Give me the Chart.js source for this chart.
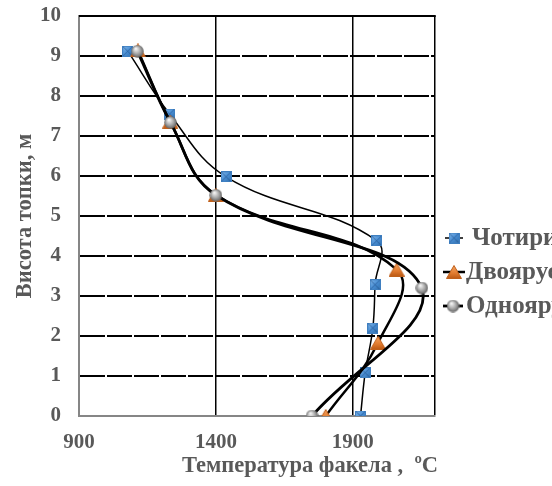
<!DOCTYPE html>
<html>
<head>
<meta charset="utf-8">
<script src="https://cdn.jsdelivr.net/npm/chart.js@4.4.1/dist/chart.umd.min.js"></script>
<style>
  html, body { margin: 0; padding: 0; background: #ffffff; }
  #c { display: block; }
</style>
</head>
<body>
<canvas id="c" width="552" height="486"></canvas>
<script>
// Series names (legend)
const seriesNames = ['Чотириярусне', 'Двоярусне', 'Одноярусне'];

// Flame temperature, °C, and furnace height, m — four-tier burners
const tempFour   = [1078, 1231, 1437, 1987, 1981, 1973, 1945, 1928];
const heightFour = [9.12, 7.55, 5.98, 4.38, 3.28, 2.20, 1.08, 0];

// Two-tier burners
const tempTwo   = [1115, 1233, 1400, 2060, 1992, 1801];
const heightTwo = [9.14, 7.36, 5.53, 3.66, 1.83, 0];

// Single-tier burners
const tempOne   = [1113, 1234, 1400, 2152, 1751];
const heightOne = [9.12, 7.34, 5.52, 3.20, 0];

// Axis ticks and ranges
const xTickValues = [900, 1400, 1900];
const xMin = 900, xMax = 2200;
const yTickValues = [0, 1, 2, 3, 4, 5, 6, 7, 8, 9, 10];

const xTitle = 'Температура факела ,  ºC';
const yTitle = 'Висота топки, м';

const FONT_FAMILY = '"Liberation Serif", "Times New Roman", serif';
const TEXT_COLOR = '#595959';

function toPoints(xs, ys) {
  return xs.map((x, i) => ({ x: x, y: ys[i] }));
}

// ---- shaded marker images ----
function makeSquare(s) {
  const c = document.createElement('canvas');
  c.width = s; c.height = s;
  const g = c.getContext('2d');
  const grd = g.createLinearGradient(0, 0, s, s);
  grd.addColorStop(0, '#86b9ea');
  grd.addColorStop(0.5, '#4a8fd4');
  grd.addColorStop(1, '#2d6aa8');
  g.fillStyle = grd;
  g.fillRect(0, 0, s, s);
  g.strokeStyle = 'rgba(25,70,125,0.55)';
  g.lineWidth = 1;
  g.beginPath();
  g.moveTo(1, 1); g.lineTo(s - 1, s - 1);
  g.moveTo(s - 1, 1); g.lineTo(1, s - 1);
  g.stroke();
  g.strokeStyle = '#3f7fc0';
  g.strokeRect(0.5, 0.5, s - 1, s - 1);
  return c;
}

function makeTriangle(w, h) {
  const c = document.createElement('canvas');
  c.width = w; c.height = h;
  const g = c.getContext('2d');
  const grd = g.createLinearGradient(0, 0, 0, h);
  grd.addColorStop(0, '#f7a866');
  grd.addColorStop(0.6, '#e07a2e');
  grd.addColorStop(1, '#b85612');
  g.fillStyle = grd;
  g.beginPath();
  g.moveTo(w / 2, 0.5);
  g.lineTo(w - 0.5, h - 0.5);
  g.lineTo(0.5, h - 0.5);
  g.closePath();
  g.fill();
  g.strokeStyle = '#c0601a';
  g.lineWidth = 1;
  g.stroke();
  return c;
}

function makeSphere(s) {
  const c = document.createElement('canvas');
  c.width = s; c.height = s;
  const g = c.getContext('2d');
  const r = s / 2;
  const grd = g.createRadialGradient(r * 0.75, r * 0.6, r * 0.1, r, r, r);
  grd.addColorStop(0, '#f2f2f2');
  grd.addColorStop(0.55, '#a6a6a6');
  grd.addColorStop(1, '#5e5e5e');
  g.fillStyle = grd;
  g.beginPath();
  g.arc(r, r, r - 0.3, 0, Math.PI * 2);
  g.fill();
  return c;
}

const squareImg = makeSquare(11);
const triangleImg = makeTriangle(16, 14);
const sphereImg = makeSphere(13);

const lineWidths = [1.5, 2.5, 2.8];
const markerImgs = [squareImg, triangleImg, sphereImg];

// ---- legend, drawn at the right side of the plot ----
const legendRows = [
  { y: 238, lineFrom: 445, lineTo: 463, marker: 454, text: 472 },
  { y: 272, lineFrom: 443, lineTo: 465, marker: 454, text: 466 },
  { y: 306, lineFrom: 443, lineTo: 463, marker: 453, text: 466 }
];

const decorPlugin = {
  id: 'decor',
  beforeDatasetsDraw(chart) {
    const { ctx, chartArea } = chart;
    // solid top edge of the plot frame
    ctx.save();
    ctx.strokeStyle = '#000000';
    ctx.lineWidth = 2;
    ctx.beginPath();
    ctx.moveTo(chartArea.left, chartArea.top);
    ctx.lineTo(chartArea.right + 0.75, chartArea.top);
    ctx.stroke();
    ctx.restore();
  },
  afterDraw(chart) {
    const { ctx, chartArea } = chart;
    ctx.save();
    ctx.fillStyle = TEXT_COLOR;
    ctx.font = 'bold 22.5px ' + FONT_FAMILY;

    // axis titles
    ctx.textAlign = 'center';
    ctx.textBaseline = 'middle';
    ctx.fillText(xTitle, 310, 466);

    ctx.save();
    ctx.translate(25, (chartArea.top + chartArea.bottom) / 2);
    ctx.rotate(-Math.PI / 2);
    ctx.fillText(yTitle, 0, 0);
    ctx.restore();

    // legend entries
    ctx.font = 'bold 25px ' + FONT_FAMILY;
    legendRows.forEach((row, i) => {
      ctx.strokeStyle = '#000000';
      ctx.lineWidth = lineWidths[i];
      ctx.beginPath();
      ctx.moveTo(row.lineFrom, row.y);
      ctx.lineTo(row.lineTo, row.y);
      ctx.stroke();
      const img = markerImgs[i];
      ctx.drawImage(img, row.marker - img.width / 2, row.y - img.height / 2);
      ctx.textAlign = 'left';
      ctx.textBaseline = 'middle';
      ctx.fillStyle = TEXT_COLOR;
      ctx.fillText(seriesNames[i], row.text, row.y + 1);
    });
    ctx.restore();
  }
};

const tickFont = { family: FONT_FAMILY, size: 21, weight: 'bold' };

new Chart(document.getElementById('c'), {
  type: 'scatter',
  data: {
    datasets: [
      {
        label: seriesNames[0],
        data: toPoints(tempFour, heightFour),
        showLine: true,
        borderColor: '#000000',
        borderWidth: lineWidths[0],
        tension: 0.4,
        pointStyle: squareImg,
        pointRadius: 6,
        order: 3
      },
      {
        label: seriesNames[1],
        data: toPoints(tempTwo, heightTwo),
        showLine: true,
        borderColor: '#000000',
        borderWidth: lineWidths[1],
        tension: 0.4,
        pointStyle: triangleImg,
        pointRadius: 7,
        order: 2
      },
      {
        label: seriesNames[2],
        data: toPoints(tempOne, heightOne),
        showLine: true,
        borderColor: '#000000',
        borderWidth: lineWidths[2],
        tension: 0.4,
        pointStyle: sphereImg,
        pointRadius: 7,
        order: 1
      }
    ]
  },
  options: {
    responsive: false,
    animation: false,
    devicePixelRatio: 1,
    layout: { padding: { top: 16, right: 117, left: 0, bottom: 0 } },
    plugins: {
      legend: { display: false },
      tooltip: { enabled: false }
    },
    scales: {
      x: {
        type: 'linear',
        min: xMin,
        max: xMax,
        afterBuildTicks(scale) {
          scale.ticks = xTickValues.concat([xMax]).map(v => ({ value: v }));
        },
        afterFit(scale) {
          scale.height = 70;
          scale.paddingLeft = 0;
          scale.paddingRight = 0;
        },
        ticks: {
          font: tickFont,
          color: TEXT_COLOR,
          padding: 14,
          maxRotation: 0,
          autoSkip: false,
          callback: v => (xTickValues.includes(v) ? String(v) : '')
        },
        grid: {
          drawTicks: false,
          lineWidth: 1.5,
          color: ctx => (ctx.tick && ctx.tick.value === xMin ? 'rgba(0,0,0,0)' : '#000000')
        },
        border: { display: true, color: '#868686', width: 2 }
      },
      y: {
        type: 'linear',
        min: 0,
        max: 10,
        afterBuildTicks(scale) {
          scale.ticks = yTickValues.map(v => ({ value: v }));
        },
        afterFit(scale) {
          scale.width = 79;
          scale.paddingTop = 0;
          scale.paddingBottom = 0;
        },
        ticks: {
          font: tickFont,
          color: TEXT_COLOR,
          padding: 18,
          autoSkip: false
        },
        grid: {
          drawTicks: false,
          lineWidth: 2,
          color: ctx => (ctx.tick && (ctx.tick.value === 0 || ctx.tick.value === 10) ? 'rgba(0,0,0,0)' : '#000000')
        },
        border: { display: true, color: '#868686', width: 2, dash: [25, 2] }
      }
    }
  },
  plugins: [decorPlugin]
});
</script>
</body>
</html>
